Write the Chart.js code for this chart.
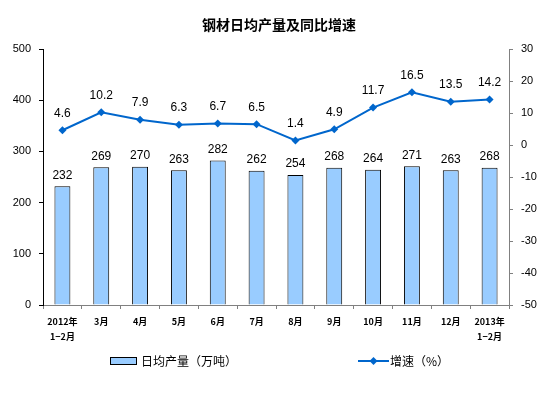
<!DOCTYPE html>
<html><head><meta charset="utf-8">
<script src="https://cdn.jsdelivr.net/npm/chart.js@4/dist/chart.umd.min.js"></script>
<style>html,body{margin:0;padding:0;background:#fff}#wrap{width:559px;height:398px}</style>
</head><body><div id="wrap"><canvas id="c" width="559" height="398"></canvas></div>
<script>
const categories = [['2012年','1−2月'],'3月','4月','5月','6月','7月','8月','9月','10月','11月','12月',['2013年','1−2月']];
const output = [232,269,270,263,282,262,254,268,264,271,263,268];
const growth = [4.6,10.2,7.9,6.3,6.7,6.5,1.4,4.9,11.7,16.5,13.5,14.2];
const leftTicks = [0,100,200,300,400,500];
const rightTicks = [-50,-40,-30,-20,-10,0,10,20,30];
const titleText = '钢材日均产量及同比增速';
const barLegend = '日均产量（万吨）';
const lineLegend = '增速（%）';

const BAR = '#99CCFF', LINE = '#0066CC';
const cjk = '"Noto Sans CJK SC", "Liberation Sans", sans-serif';

const decor = {
  id: 'decor',
  afterDatasetsDraw(chart) {
    const ctx = chart.ctx;
    ctx.save();
    ctx.fillStyle = '#000';
    ctx.font = '12px "Liberation Sans", Arial, sans-serif';
    ctx.textAlign = 'center';
    ctx.textBaseline = 'middle';
    chart.getDatasetMeta(0).data.forEach((el, i) => {
      ctx.fillText(String(output[i]), el.x, el.y - 11);
    });
    chart.getDatasetMeta(1).data.forEach((el, i) => {
      ctx.fillText(growth[i].toFixed(1), el.x, el.y - 17);
    });
    // title
    ctx.font = 'bold 14px ' + cjk;
    ctx.fillText(titleText, 279, 25);
    // legend
    const ly = 361;
    ctx.fillStyle = BAR; ctx.strokeStyle = '#000'; ctx.lineWidth = 1;
    ctx.fillRect(110.5, ly - 3.5, 26, 7); ctx.strokeRect(110.5, ly - 3.5, 26, 7);
    ctx.fillStyle = '#000';
    ctx.textAlign = 'left';
    ctx.font = '12px ' + cjk;
    ctx.fillText(barLegend, 141, ly);
    ctx.strokeStyle = LINE; ctx.lineWidth = 2;
    ctx.beginPath(); ctx.moveTo(358, ly); ctx.lineTo(389, ly); ctx.stroke();
    ctx.fillStyle = LINE;
    ctx.beginPath(); ctx.moveTo(373.5, ly - 4); ctx.lineTo(377.5, ly); ctx.lineTo(373.5, ly + 4); ctx.lineTo(369.5, ly); ctx.closePath(); ctx.fill();
    ctx.fillStyle = '#000';
    ctx.fillText(lineLegend, 390, ly);
    ctx.restore();
  }
};

new Chart(document.getElementById('c'), {
  data: {
    labels: categories,
    datasets: [
      { type: 'bar', label: barLegend, data: output, yAxisID: 'y', backgroundColor: BAR, borderColor: '#000', borderWidth: 1, barPercentage: 0.82, categoryPercentage: 0.5, order: 2 },
      { type: 'line', label: lineLegend, data: growth, yAxisID: 'y1', borderColor: LINE, backgroundColor: LINE, borderWidth: 2, pointStyle: 'rectRot', pointRadius: 4, pointBackgroundColor: LINE, pointBorderWidth: 0, tension: 0, order: 1 }
    ]
  },
  options: {
    responsive: false, animation: false,
    layout: { padding: { top: 49, bottom: 48, left: 0, right: 0 } },
    plugins: { legend: { display: false }, title: { display: false }, tooltip: { enabled: false } },
    scales: {
      x: {
        grid: { offset: true, drawOnChartArea: false, tickLength: 4, color: '#808080' },
        border: { color: '#808080' },
        ticks: { color: '#000', font: { family: cjk, size: 9, weight: 'bold', lineHeight: 1.65 }, maxRotation: 0, autoSkip: false, padding: 5 },
        afterFit(s) { s.height = 45; }
      },
      y: {
        position: 'left', min: 0, max: 500,
        afterBuildTicks(s) { s.ticks = leftTicks.map(v => ({ value: v })); },
        grid: { drawOnChartArea: false, tickLength: 4, color: '#000' },
        border: { color: '#000' },
        ticks: { color: '#000', font: { family: '"Liberation Sans", Arial, sans-serif', size: 11 }, padding: 8 },
        afterFit(s) { s.width = 43; }
      },
      y1: {
        position: 'right', min: -50, max: 30,
        afterBuildTicks(s) { s.ticks = rightTicks.map(v => ({ value: v })); },
        grid: { drawOnChartArea: false, tickLength: 4, color: '#808080' },
        border: { color: '#808080' },
        ticks: { color: '#000', font: { family: '"Liberation Sans", Arial, sans-serif', size: 11 }, padding: 8 },
        afterFit(s) { s.width = 50; }
      }
    }
  },
  plugins: [decor]
});
</script>
</body></html>
